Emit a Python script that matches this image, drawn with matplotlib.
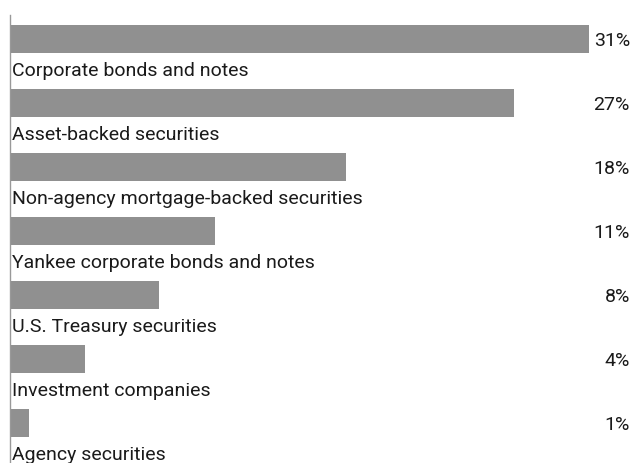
import matplotlib.pyplot as plt
import matplotlib.transforms as mtransforms

categories = [
    "Corporate bonds and notes",
    "Asset-backed securities",
    "Non-agency mortgage-backed securities",
    "Yankee corporate bonds and notes",
    "U.S. Treasury securities",
    "Investment companies",
    "Agency securities",
]
shares = [31, 27, 18, 11, 8, 4, 1]
share_labels = ["31%", "27%", "18%", "11%", "8%", "4%", "1%"]

plt.rcParams["font.family"] = ["Roboto", "DejaVu Sans"]

W, H = 637, 463
fig = plt.figure(figsize=(W / 100, H / 100), dpi=100)
ax = fig.add_axes([10 / W, 0, 627 / W, 448 / H])

ypos = list(range(len(categories)))
ax.barh(ypos, shares, height=0.4375, color="#909090", align="center")
ax.set_xlim(0, 627 / 18.67)
ax.set_ylim(6.625, -0.375)

trans = mtransforms.blended_transform_factory(ax.transData, ax.transData)
right = mtransforms.blended_transform_factory(fig.transFigure, ax.transData)
for y, name, lab in zip(ypos, categories, share_labels):
    ax.text(0.1, y + 0.5, name, transform=trans, ha="left", va="center",
            fontsize=14, color="#1a1a1a")
    ax.text(630 / W, y + 0.03, lab, transform=right, ha="right", va="center",
            fontsize=14, color="#1a1a1a")

for s in ["top", "right", "bottom"]:
    ax.spines[s].set_visible(False)
ax.spines["left"].set_color("#999999")
ax.spines["left"].set_linewidth(1)
ax.set_xticks([])
ax.set_yticks([])

fig.savefig("out.png", dpi=100)
